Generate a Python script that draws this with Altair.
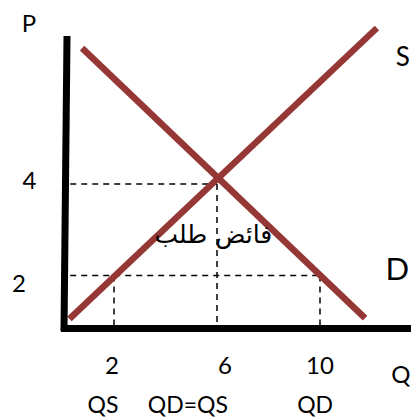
import altair as alt
import pandas as pd

# Supply and demand curves (quantity Q, price P)
curve_names = ["D", "S"]
curve_q1 = [0.76, 0.27]
curve_p1 = [6.97, 1.05]
curve_q2 = [11.75, 12.21]
curve_p2 = [1.07, 7.41]

# Dashed guide segments
guide_q1 = [0.3, 6.0, 0.3, 2.0, 10.0]
guide_p1 = [4.0, 4.0, 2.0, 2.0, 2.0]
guide_q2 = [6.0, 6.0, 9.95, 2.0, 10.0]
guide_p2 = [4.0, 0.85, 2.0, 0.85, 0.85]

# Hand-drawn axes (thick black strokes)
axis_q1 = [0.175, -0.06]
axis_p1 = [7.235, 0.8415]
axis_q2 = [0.058, 13.6]
axis_p2 = [0.787, 0.8415]

# Text labels
label_text = ["P", "4", "2", "2", "6", "10", "Q", "QS", "QD=QS", "QD", "S", "D"]
label_q = [-1.30, -1.28, -1.69, 1.92, 6.31, 10.0, 13.14, 1.57, 4.87, 9.81, 13.22, 13.0]
label_p = [7.32, 3.89, 1.64, -0.153, -0.153, -0.153, -0.35, -1.005, -1.005, -1.005, 6.57, 1.90]
label_size = [24, 24, 24, 24, 24, 24, 24, 23, 23, 23, 26, 31]

arabic_text = ["فائض طلب"]
arabic_q = [5.86]
arabic_p = [2.71]

curves = pd.DataFrame({"name": curve_names, "q": curve_q1, "p": curve_p1, "q2": curve_q2, "p2": curve_p2})
guides = pd.DataFrame({"q": guide_q1, "p": guide_p1, "q2": guide_q2, "p2": guide_p2})
axes = pd.DataFrame({"q": axis_q1, "p": axis_p1, "q2": axis_q2, "p2": axis_p2})
labels = pd.DataFrame({"t": label_text, "q": label_q, "p": label_p, "s": label_size})
arabic = pd.DataFrame({"t": arabic_text, "q": arabic_q, "p": arabic_p})

W, H = 403, 409
xs = alt.Scale(domain=[-2.1165, (W - 54.5) / 25.75], nice=False, zero=False)
ys = alt.Scale(domain=[(359 - H) / 45.75, 7.847], nice=False, zero=False)

def pos():
    return dict(
        x=alt.X("q:Q", scale=xs, axis=None),
        y=alt.Y("p:Q", scale=ys, axis=None),
    )

def seg_enc():
    return dict(x2="q2:Q", y2="p2:Q", **pos())

guide_layer = alt.Chart(guides).mark_rule(
    color="black", strokeWidth=1.5, strokeDash=[6, 5]
).encode(**seg_enc())

curve_layer = alt.Chart(curves).mark_rule(
    color="#953735", strokeWidth=6.5, strokeCap="butt"
).encode(**seg_enc())

axis_layer = alt.Chart(axes).mark_rule(
    color="black", strokeWidth=7, strokeCap="butt"
).encode(**seg_enc())

label_layer = alt.Chart(labels).mark_text(
    font="Lato", color="black", align="center", baseline="alphabetic"
).encode(
    text="t:N",
    size=alt.Size("s:Q", scale=None, legend=None),
    **pos(),
)

arabic_layer = alt.Chart(arabic).mark_text(
    font="DejaVu Sans", fontSize=25, color="black", align="center", baseline="alphabetic"
).encode(text="t:N", **pos())

chart = alt.layer(
    guide_layer, curve_layer, axis_layer, label_layer, arabic_layer
).properties(
    width=W, height=H, padding=0, autosize=alt.AutoSizeParams(type="none")
).configure_view(stroke=None)

chart.save("out.html", embed_options={"renderer": "svg", "actions": False})
